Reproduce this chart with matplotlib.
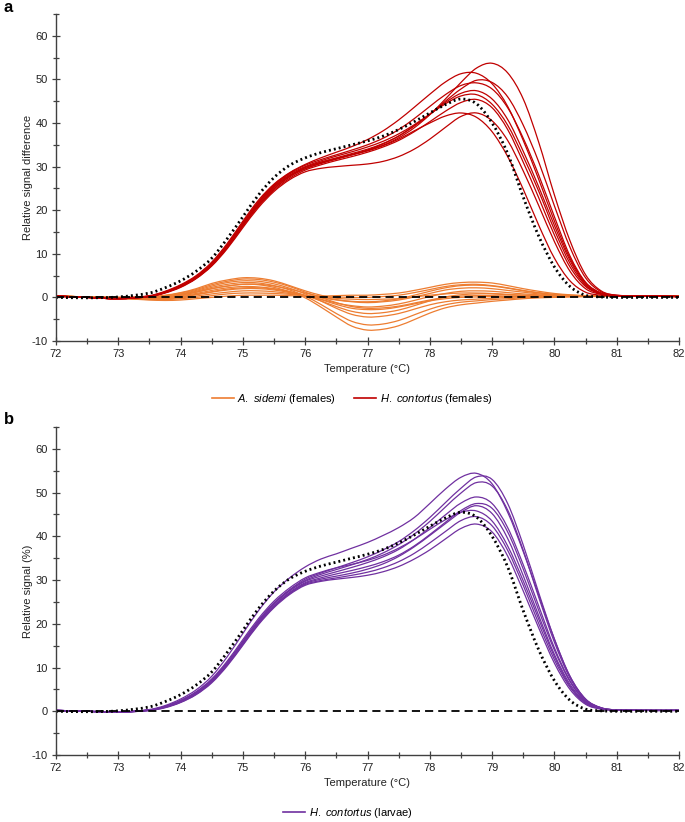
import matplotlib
matplotlib.use("Agg")
import matplotlib.pyplot as plt
from matplotlib.lines import Line2D
from matplotlib.path import Path
from matplotlib.patches import PathPatch
from matplotlib.ticker import MultipleLocator

plt.rcParams['font.family'] = ['Liberation Sans', 'DejaVu Sans']
plt.rcParams['mathtext.fontset'] = 'custom'
plt.rcParams['mathtext.it'] = 'Liberation Sans:italic'
plt.rcParams['mathtext.rm'] = 'Liberation Sans'
plt.rcParams['axes.unicode_minus'] = False

# ---------------- data ----------------
temperature = [72.0, 72.5, 73.0, 73.5, 73.75, 74.0, 74.25, 74.5, 74.75, 75.0, 75.25, 75.5,
               75.75, 76.0, 76.25, 76.5, 76.75, 77.0, 77.25, 77.5, 77.75, 78.0, 78.25, 78.5,
               78.75, 79.0, 79.25, 79.5, 79.75, 80.0, 80.25, 80.5, 80.75, 81.0, 81.5, 82.0]

# reference curve (black dotted)
reference = [0.0, -0.1, 0.1, 1.0, 2.2, 3.8, 6.0, 9.0, 13.5, 18.5, 23.5, 27.5, 30.3,
             32.0, 33.2, 34.1, 35.0, 35.9, 37.0, 38.5, 40.3, 42.3, 44.2, 45.5, 44.4, 40.0,
             33.0, 23.0, 14.0, 7.0, 2.5, 0.5, 0.1, 0.0, 0.0, 0.0]
baseline_t = [72.0, 82.0]
baseline_v = [0.0, 0.0]

# H. contortus (females) - panel a
hc_females = [
    [0.3, 0.0, -0.3, 0.2, 1.1, 2.5, 4.5, 7.5, 11.6, 16.5, 21.2, 25.0, 27.8,
     29.8, 31.0, 31.9, 32.8, 33.7, 34.9, 36.6, 38.9, 41.9, 45.5, 49.3, 52.6, 53.7,
     51.5, 45.5, 35.5, 23.5, 13.0, 5.2, 1.5, 0.5, 0.3, 0.2],
    [0.3, 0.0, -0.2, 0.4, 1.4, 2.9, 5.0, 8.1, 12.4, 17.5, 22.3, 26.0, 28.6,
     30.5, 32.0, 33.3, 34.6, 36.2, 38.2, 40.7, 43.6, 46.6, 49.4, 51.3, 51.4, 49.0,
     43.8, 36.0, 27.0, 17.5, 9.0, 3.3, 1.0, 0.4, 0.3, 0.2],
    [0.3, 0.0, -0.3, 0.3, 1.2, 2.6, 4.6, 7.6, 11.8, 16.8, 21.5, 25.3, 28.0,
     29.8, 31.0, 32.0, 33.0, 34.0, 35.3, 37.0, 39.3, 42.0, 45.0, 47.8, 49.8, 49.3,
     46.0, 39.5, 31.0, 21.0, 11.5, 4.5, 1.3, 0.5, 0.3, 0.2],
    [0.3, 0.0, -0.3, 0.3, 1.3, 2.7, 4.8, 7.8, 12.1, 17.2, 22.0, 25.8, 28.5,
     30.3, 31.6, 32.7, 33.8, 35.0, 36.5, 38.5, 41.0, 43.8, 46.5, 48.6, 49.2, 47.8,
     43.5, 36.5, 28.0, 18.5, 9.5, 3.5, 1.0, 0.4, 0.3, 0.2],
    [0.3, 0.0, -0.3, 0.2, 1.1, 2.5, 4.5, 7.5, 11.6, 16.6, 21.2, 24.9, 27.6,
     29.5, 30.7, 31.7, 32.7, 33.8, 35.2, 37.0, 39.4, 42.0, 44.7, 46.8, 47.4, 45.5,
     40.8, 33.5, 25.3, 16.5, 8.5, 3.0, 0.9, 0.4, 0.3, 0.2],
    [0.3, 0.0, -0.3, 0.3, 1.2, 2.7, 4.7, 7.8, 12.0, 17.0, 21.8, 25.6, 28.3,
     30.0, 31.3, 32.4, 33.4, 34.5, 35.8, 37.5, 39.6, 42.0, 44.4, 46.2, 46.5, 44.3,
     39.5, 32.3, 24.3, 15.5, 7.8, 2.8, 0.8, 0.4, 0.3, 0.2],
    [0.3, 0.0, -0.3, 0.2, 1.1, 2.4, 4.4, 7.3, 11.4, 16.3, 20.9, 24.6, 27.3,
     29.2, 30.4, 31.4, 32.3, 33.3, 34.5, 36.0, 38.0, 40.3, 42.7, 44.7, 45.4, 43.5,
     38.5, 31.0, 22.8, 14.3, 7.0, 2.5, 0.8, 0.4, 0.3, 0.2],
    [0.3, 0.0, -0.3, 0.2, 1.0, 2.3, 4.3, 7.2, 11.2, 16.0, 20.6, 24.3, 27.0,
     28.8, 29.6, 30.0, 30.3, 30.6, 31.2, 32.3, 34.0, 36.3, 39.0, 41.5, 42.3, 40.5,
     36.0, 29.0, 21.0, 12.8, 6.0, 2.0, 0.7, 0.4, 0.3, 0.2],
    [0.3, 0.0, -0.3, 0.3, 1.2, 2.6, 4.7, 7.7, 11.9, 16.9, 21.7, 25.4, 28.0,
     29.5, 30.8, 31.8, 32.7, 33.6, 34.8, 36.3, 38.2, 40.0, 41.6, 42.3, 41.3, 38.0,
     32.3, 24.8, 16.5, 9.0, 3.8, 1.2, 0.5, 0.3, 0.3, 0.2],
]

# A. sidemi (females) - panel a
as_females = [
    [0.3, 0.1, 0.0, 0.2, 0.5, 1.1, 2.0, 3.2, 4.0, 4.5, 4.4, 3.8, 2.7, 1.5, 0.5, -0.2, -0.4, -0.5,
     -0.4, -0.3, 0.1, 0.5, 0.8, 1.0, 1.0, 0.9, 0.7, 0.5, 0.4, 0.3, 0.3, 0.3, 0.3, 0.3, 0.3, 0.3],
    [0.3, 0.1, 0.0, 0.1, 0.4, 1.0, 1.8, 2.9, 3.7, 4.2, 4.1, 3.5, 2.5, 1.2, 0.0, -1.2, -2.1, -2.5,
     -2.4, -2.0, -1.3, -0.6, 0.0, 0.3, 0.4, 0.4, 0.3, 0.3, 0.3, 0.3, 0.3, 0.3, 0.3, 0.3, 0.3, 0.3],
    [0.3, 0.1, -0.1, 0.0, 0.3, 0.8, 1.6, 2.6, 3.4, 3.8, 3.7, 3.1, 2.1, 0.8, -0.8, -2.5, -3.9, -4.5,
     -4.3, -3.7, -2.7, -1.7, -1.0, -0.6, -0.4, -0.2, 0.0, 0.1, 0.2, 0.2, 0.3, 0.3, 0.3, 0.3, 0.3, 0.3],
    [0.3, 0.1, -0.1, -0.1, 0.2, 0.7, 1.4, 2.3, 3.0, 3.4, 3.3, 2.7, 1.7, 0.3, -1.6, -3.7, -5.5, -6.3,
     -6.1, -5.3, -4.0, -2.7, -1.7, -1.1, -0.8, -0.5, -0.3, -0.1, 0.0, 0.1, 0.2, 0.2, 0.3, 0.3, 0.3, 0.3],
    [0.3, 0.1, -0.1, -0.2, 0.1, 0.5, 1.2, 2.0, 2.6, 3.0, 2.9, 2.3, 1.3, -0.1, -2.2, -4.5, -6.6, -7.5,
     -7.3, -6.5, -5.1, -3.6, -2.4, -1.7, -1.3, -0.9, -0.6, -0.3, -0.1, 0.0, 0.1, 0.2, 0.2, 0.3, 0.3, 0.3],
    [0.3, 0.1, -0.1, -0.2, 0.0, 0.4, 0.9, 1.6, 2.2, 2.5, 2.4, 2.0, 1.3, 0.4, -0.8, -2.1, -3.2, -3.7,
     -3.5, -2.9, -1.9, -0.8, 0.1, 0.6, 0.8, 0.8, 0.6, 0.5, 0.4, 0.3, 0.3, 0.3, 0.3, 0.3, 0.3, 0.3],
    [0.3, 0.1, -0.1, -0.3, -0.2, 0.1, 0.6, 1.2, 1.7, 2.0, 2.0, 1.7, 1.1, 0.4, -0.4, -1.3, -1.9, -2.2,
     -2.0, -1.5, -0.7, 0.2, 0.9, 1.4, 1.5, 1.4, 1.1, 0.8, 0.6, 0.4, 0.3, 0.3, 0.3, 0.3, 0.3, 0.3],
    [0.3, 0.1, -0.2, -0.4, -0.3, -0.1, 0.3, 0.8, 1.2, 1.5, 1.5, 1.3, 0.9, 0.4, -0.1, -0.6, -1.0, -1.2,
     -1.0, -0.6, 0.1, 0.9, 1.7, 2.1, 2.2, 2.0, 1.6, 1.2, 0.8, 0.5, 0.4, 0.3, 0.3, 0.3, 0.3, 0.3],
    [0.3, 0.1, -0.2, -0.5, -0.5, -0.3, 0.0, 0.4, 0.8, 1.0, 1.0, 0.9, 0.7, 0.4, 0.2, 0.1, 0.0, 0.0,
     0.2, 0.5, 1.1, 1.8, 2.5, 2.9, 3.0, 2.7, 2.2, 1.6, 1.1, 0.7, 0.5, 0.4, 0.3, 0.3, 0.3, 0.3],
    [0.3, 0.1, -0.2, -0.6, -0.7, -0.6, -0.3, 0.0, 0.3, 0.5, 0.5, 0.5, 0.4, 0.3, 0.3, 0.4, 0.5, 0.5,
     0.7, 1.0, 1.6, 2.3, 3.0, 3.4, 3.5, 3.3, 2.7, 2.0, 1.4, 0.9, 0.6, 0.4, 0.3, 0.3, 0.3, 0.3],
    [0.3, 0.1, 0.0, 0.0, 0.2, 0.6, 1.2, 2.0, 2.6, 3.0, 3.0, 2.6, 1.9, 1.0, 0.2, -0.5, -0.9, -1.0,
     -0.8, -0.3, 0.5, 1.4, 2.2, 2.7, 2.8, 2.6, 2.1, 1.5, 1.0, 0.6, 0.4, 0.3, 0.3, 0.3, 0.3, 0.3],
    [0.3, 0.1, -0.1, -0.3, -0.1, 0.2, 0.7, 1.3, 1.9, 2.2, 2.2, 1.9, 1.3, 0.5, -0.5, -1.6, -2.5, -2.8,
     -2.7, -2.2, -1.5, -0.8, -0.3, 0.0, 0.1, 0.2, 0.2, 0.2, 0.2, 0.3, 0.3, 0.3, 0.3, 0.3, 0.3, 0.3],
]

# H. contortus (larvae) - panel b
hc_larvae = [
    [0.2, 0.0, -0.2, 0.4, 1.3, 2.8, 4.9, 8.0, 12.5, 17.8, 23.0, 27.3, 30.5,
     33.0, 34.8, 36.0, 37.3, 38.6, 40.2, 42.0, 44.3, 47.5, 50.8, 53.5, 54.4, 52.0,
     45.5, 36.5, 26.5, 16.5, 8.0, 2.8, 0.8, 0.3, 0.2, 0.2],
    [0.2, 0.0, -0.2, 0.3, 1.1, 2.4, 4.3, 7.2, 11.2, 16.0, 20.8, 24.8, 27.8,
     30.2, 31.6, 32.8, 34.0, 35.3, 36.9, 38.8, 41.3, 44.3, 47.7, 51.0, 53.6, 53.0,
     47.5, 38.0, 27.0, 16.5, 8.0, 2.8, 0.8, 0.3, 0.2, 0.2],
    [0.2, 0.0, -0.2, 0.3, 1.1, 2.4, 4.3, 7.1, 11.1, 15.9, 20.7, 24.7, 27.7,
     29.9, 31.3, 32.4, 33.5, 34.7, 36.2, 38.1, 40.5, 43.4, 46.7, 49.9, 52.3, 51.5,
     46.0, 36.8, 26.0, 15.8, 7.6, 2.6, 0.8, 0.3, 0.2, 0.2],
    [0.2, 0.0, -0.2, 0.3, 1.0, 2.3, 4.2, 7.0, 11.0, 15.8, 20.5, 24.5, 27.5,
     29.7, 30.9, 31.9, 32.9, 34.0, 35.3, 37.0, 39.3, 42.0, 44.9, 47.6, 49.0, 47.5,
     42.0, 33.5, 24.0, 14.5, 7.0, 2.4, 0.7, 0.3, 0.2, 0.2],
    [0.2, 0.0, -0.2, 0.2, 1.0, 2.2, 4.1, 6.9, 10.8, 15.6, 20.3, 24.2, 27.2,
     29.4, 30.5, 31.4, 32.2, 33.1, 34.2, 35.7, 37.8, 40.4, 43.2, 45.9, 47.5, 46.4,
     41.0, 32.5, 23.0, 14.0, 6.8, 2.3, 0.7, 0.3, 0.2, 0.2],
    [0.2, 0.0, -0.2, 0.2, 0.9, 2.1, 4.0, 6.8, 10.7, 15.4, 20.1, 24.0, 27.0,
     29.2, 30.2, 30.9, 31.6, 32.5, 33.7, 35.4, 37.6, 40.2, 42.9, 45.5, 47.0, 45.2,
     39.5, 31.0, 21.8, 13.0, 6.2, 2.1, 0.6, 0.3, 0.2, 0.2],
    [0.2, 0.0, -0.2, 0.2, 0.9, 2.1, 3.9, 6.7, 10.6, 15.3, 20.0, 23.9, 26.9,
     29.0, 29.9, 30.5, 31.1, 31.8, 32.8, 34.2, 36.1, 38.5, 41.1, 43.6, 44.5, 42.4,
     36.8, 28.8, 20.0, 11.8, 5.5, 1.8, 0.5, 0.3, 0.2, 0.2],
    [0.2, 0.0, -0.2, 0.2, 0.8, 2.0, 3.8, 6.5, 10.4, 15.1, 19.8, 23.7, 26.7,
     28.8, 29.7, 30.2, 30.6, 31.1, 31.9, 33.1, 34.8, 36.9, 39.4, 41.8, 42.8, 41.0,
     35.5, 27.5, 19.0, 11.0, 5.0, 1.6, 0.5, 0.3, 0.2, 0.2],
    [0.2, 0.0, -0.2, 0.3, 1.1, 2.5, 4.5, 7.4, 11.5, 16.4, 21.2, 25.2, 28.2,
     30.5, 31.8, 32.8, 33.6, 34.5, 35.7, 37.3, 39.3, 41.6, 43.8, 45.5, 45.8, 43.5,
     37.8, 29.8, 21.0, 12.5, 5.8, 2.0, 0.6, 0.3, 0.2, 0.2],
]

x_ticks = [72, 73, 74, 75, 76, 77, 78, 79, 80, 81, 82]
y_ticks = [-10, 0, 10, 20, 30, 40, 50, 60]

ORANGE = '#ED7D31'
RED = '#C00000'
PURPLE = '#7030A0'
AXCOL = '#404040'


def smoothed(ax, xs, ys, **style):
    """Draw a smoothed (Bezier, Excel-style) line through the data points."""
    n = len(xs)
    slopes = []
    for i in range(n):
        if i == 0:
            slopes.append((ys[1] - ys[0]) / (xs[1] - xs[0]))
        elif i == n - 1:
            slopes.append((ys[-1] - ys[-2]) / (xs[-1] - xs[-2]))
        else:
            slopes.append((ys[i + 1] - ys[i - 1]) / (xs[i + 1] - xs[i - 1]))
    verts = [(xs[0], ys[0])]
    codes = [Path.MOVETO]
    for i in range(n - 1):
        h = xs[i + 1] - xs[i]
        verts += [(xs[i] + h / 3, ys[i] + slopes[i] * h / 3),
                  (xs[i + 1] - h / 3, ys[i + 1] - slopes[i + 1] * h / 3),
                  (xs[i + 1], ys[i + 1])]
        codes += [Path.CURVE4] * 3
    patch = PathPatch(Path(verts, codes), fill=False, transform=ax.transData, **style)
    patch.set_capstyle('butt')
    ax.add_patch(patch)
    return patch


# ---------------- figure ----------------
W, H = 685, 822
fig = plt.figure(figsize=(W / 100, H / 100), dpi=100)


def frac_rect(left, top, right, bottom):
    return [left / W, 1 - bottom / H, (right - left) / W, (bottom - top) / H]


ax_a = fig.add_axes(frac_rect(56, 14, 679, 341))
ax_b = fig.add_axes(frac_rect(56, 427, 679, 755))

LW = 0.9
DOT = dict(edgecolor='black', lw=2.0, linestyle=(0, (0.7, 1.1)))
DASH = dict(color='black', lw=1.3, linestyle=(0, (4.5, 2.8)))

for vals in as_females:
    smoothed(ax_a, temperature, vals, edgecolor=ORANGE, lw=LW)
for vals in hc_females:
    smoothed(ax_a, temperature, vals, edgecolor=RED, lw=LW)
ax_a.plot(baseline_t, baseline_v, **DASH)
smoothed(ax_a, temperature, reference, **DOT)

for vals in hc_larvae:
    smoothed(ax_b, temperature, vals, edgecolor=PURPLE, lw=LW)
ax_b.plot(baseline_t, baseline_v, **DASH)
smoothed(ax_b, temperature, reference, **DOT)

for ax, ylab in ((ax_a, 'Relative signal difference'), (ax_b, 'Relative signal (%)')):
    ax.set_xlim(72, 82)
    ax.set_ylim(-10, 65)
    ax.set_xticks(x_ticks)
    ax.set_yticks(y_ticks)
    ax.xaxis.set_minor_locator(MultipleLocator(0.5))
    ax.yaxis.set_minor_locator(MultipleLocator(5))
    for s in ('top', 'right'):
        ax.spines[s].set_visible(False)
    for s in ('left', 'bottom'):
        ax.spines[s].set_color(AXCOL)
        ax.spines[s].set_linewidth(1.0)
    ax.tick_params(which='both', direction='inout', color=AXCOL, width=0.9,
                   labelsize=8, labelcolor='#222222')
    ax.tick_params(which='major', length=6, pad=3)
    ax.tick_params(which='minor', length=5)
    ax.set_xlabel('Temperature (°C)', fontsize=8, color='#222222', labelpad=3)
    ax.set_ylabel(ylab, fontsize=8, color='#222222', labelpad=-1)
    ax.patch.set_alpha(0)

fig.text(4 / W, 1 - 8 / H, 'a', fontsize=12, fontweight='bold', va='center', ha='left')
fig.text(4 / W, 1 - 419 / H, 'b', fontsize=12, fontweight='bold', va='center', ha='left')

h_as = Line2D([], [], color=ORANGE, lw=1.2)
h_hc = Line2D([], [], color=RED, lw=1.2)
h_hl = Line2D([], [], color=PURPLE, lw=1.2)

fig.legend([h_as, h_hc],
           [r'$\mathit{A.}$ $\mathit{sidemi}$ (females)', r'$\mathit{H.}$ $\mathit{contortus}$ (females)'],
           loc='center', bbox_to_anchor=(352 / W, 1 - 399 / H), ncol=2, frameon=False,
           fontsize=8, handlelength=2.0, handletextpad=0.3, columnspacing=1.6)
fig.legend([h_hl], [r'$\mathit{H.}$ $\mathit{contortus}$ (larvae)'],
           loc='center', bbox_to_anchor=(348 / W, 1 - 813 / H), ncol=1, frameon=False,
           fontsize=8, handlelength=2.0, handletextpad=0.3)

fig.savefig('out.png', dpi=100, facecolor='white')
